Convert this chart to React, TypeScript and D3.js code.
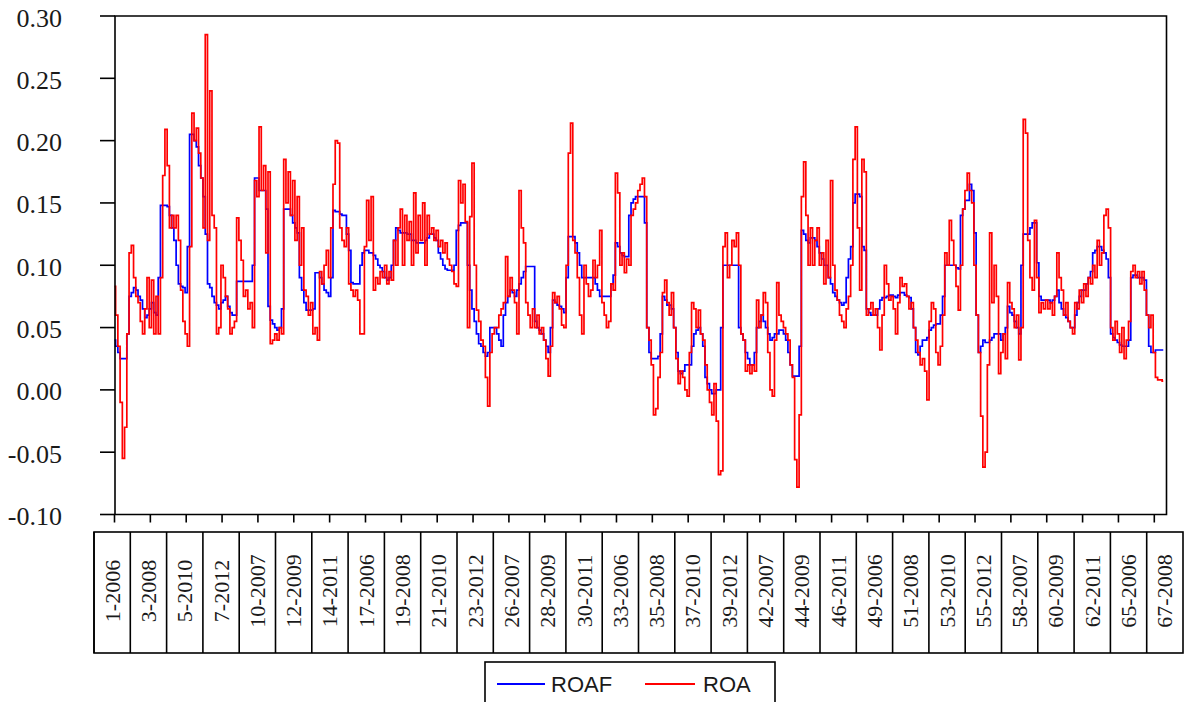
import React from "react";
import * as d3 from "d3";

const ROA: number[] = [
  0.083,0.06,0.035,-0.01,-0.055,-0.03,0.045,0.11,0.116,0.09,
  0.075,0.07,0.055,0.045,0.065,0.09,0.05,0.088,0.045,0.075,
  0.045,0.09,0.172,0.209,0.18,0.13,0.14,0.13,0.14,0.12,
  0.08,0.055,0.045,0.035,0.115,0.222,0.2,0.21,0.19,0.17,
  0.13,0.285,0.12,0.24,0.14,0.13,0.045,0.05,0.1,0.09,
  0.075,0.065,0.045,0.05,0.055,0.138,0.12,0.104,0.075,0.08,
  0.065,0.07,0.05,0.168,0.155,0.211,0.16,0.18,0.11,0.175,
  0.037,0.04,0.045,0.04,0.05,0.045,0.185,0.15,0.175,0.14,
  0.168,0.12,0.155,0.1,0.13,0.08,0.075,0.06,0.07,0.045,
  0.05,0.04,0.095,0.085,0.1,0.112,0.09,0.13,0.165,0.2,
  0.198,0.13,0.12,0.115,0.13,0.085,0.08,0.075,0.08,0.072,
  0.045,0.045,0.115,0.152,0.12,0.155,0.08,0.09,0.085,0.095,
  0.09,0.1,0.085,0.095,0.088,0.12,0.1,0.13,0.145,0.1,
  0.14,0.12,0.135,0.1,0.158,0.11,0.14,0.12,0.15,0.1,
  0.14,0.125,0.13,0.12,0.128,0.115,0.12,0.11,0.118,0.105,
  0.1,0.095,0.085,0.083,0.168,0.15,0.165,0.135,0.05,0.139,
  0.182,0.1,0.064,0.055,0.04,0.035,0.01,-0.013,0.03,0.045,
  0.05,0.05,0.06,0.065,0.07,0.107,0.075,0.09,0.08,0.07,
  0.045,0.16,0.13,0.118,0.07,0.06,0.05,0.065,0.05,0.06,
  0.045,0.05,0.04,0.025,0.011,0.035,0.078,0.07,0.075,0.065,
  0.052,0.05,0.1,0.19,0.214,0.12,0.11,0.09,0.06,0.045,
  0.1,0.085,0.075,0.08,0.104,0.09,0.1,0.128,0.07,0.06,
  0.05,0.055,0.085,0.08,0.174,0.158,0.1,0.11,0.094,0.105,
  0.1,0.14,0.145,0.15,0.16,0.165,0.17,0.155,0.05,0.04,
  0.02,-0.02,-0.015,0.01,0.03,0.078,0.088,0.07,0.06,0.078,
  0.05,0.025,0.005,0.015,0.01,0.0,-0.005,0.03,0.07,0.065,
  0.05,0.064,0.045,0.04,0.02,0.0,-0.01,-0.02,0.005,-0.025,
  -0.068,-0.065,0.115,0.126,0.09,0.1,0.12,0.115,0.126,0.1,
  0.045,0.04,0.015,0.02,0.013,0.02,0.015,0.072,0.05,0.06,
  0.078,0.07,0.03,0.0,-0.005,0.04,0.086,0.06,0.055,0.05,
  0.045,0.04,0.02,0.01,-0.056,-0.078,-0.02,0.155,0.183,0.14,
  0.1,0.13,0.1,0.12,0.13,0.1,0.11,0.085,0.12,0.09,
  0.168,0.1,0.08,0.072,0.06,0.055,0.05,0.065,0.075,0.1,
  0.185,0.211,0.13,0.08,0.185,0.175,0.06,0.065,0.07,0.06,
  0.065,0.05,0.032,0.06,0.1,0.085,0.072,0.075,0.065,0.045,
  0.07,0.09,0.083,0.085,0.075,0.065,0.07,0.05,0.04,0.03,
  0.02,0.025,0.015,-0.008,0.055,0.07,0.065,0.03,0.02,0.035,
  0.06,0.11,0.1,0.136,0.12,0.1,0.083,0.064,0.1,0.145,
  0.16,0.174,0.16,0.15,0.1,0.06,0.03,-0.021,-0.062,-0.05,
  0.02,0.126,0.07,0.1,0.075,0.013,0.03,0.045,0.025,0.086,
  0.07,0.065,0.05,0.06,0.024,0.05,0.217,0.206,0.12,0.09,
  0.08,0.136,0.09,0.062,0.07,0.065,0.072,0.065,0.07,0.06,
  0.075,0.11,0.09,0.08,0.06,0.07,0.055,0.05,0.045,0.07,
  0.065,0.08,0.07,0.085,0.075,0.09,0.085,0.1,0.09,0.12,
  0.1,0.11,0.14,0.145,0.13,0.05,0.04,0.055,0.045,0.03,
  0.05,0.025,0.04,0.055,0.095,0.1,0.09,0.095,0.085,0.095,
  0.08,0.06,0.05,0.06,0.03,0.01,0.008,0.008,0.007,
];

const ROAF: number[] = [
  0.04,0.035,0.03,0.025,0.025,0.025,0.045,0.075,0.078,0.082,
  0.08,0.075,0.072,0.065,0.058,0.06,0.065,0.07,0.062,0.06,
  0.09,0.148,0.148,0.148,0.147,0.14,0.13,0.12,0.1,0.085,
  0.083,0.082,0.078,0.115,0.205,0.205,0.2,0.195,0.18,0.17,
  0.155,0.125,0.085,0.082,0.075,0.07,0.068,0.065,0.07,0.072,
  0.075,0.067,0.062,0.06,0.06,0.087,0.087,0.087,0.087,0.087,
  0.087,0.087,0.1,0.17,0.17,0.16,0.16,0.16,0.145,0.067,
  0.056,0.053,0.05,0.048,0.05,0.065,0.145,0.145,0.145,0.14,
  0.134,0.13,0.126,0.09,0.08,0.07,0.064,0.064,0.064,0.065,
  0.094,0.094,0.09,0.085,0.08,0.078,0.075,0.09,0.144,0.143,
  0.143,0.141,0.14,0.14,0.125,0.112,0.086,0.085,0.085,0.085,
  0.1,0.11,0.112,0.112,0.11,0.11,0.108,0.105,0.1,0.098,
  0.095,0.09,0.088,0.09,0.1,0.12,0.13,0.128,0.126,0.126,
  0.126,0.125,0.125,0.12,0.12,0.118,0.118,0.118,0.118,0.12,
  0.122,0.125,0.125,0.122,0.12,0.11,0.105,0.1,0.097,0.096,
  0.096,0.096,0.1,0.128,0.132,0.134,0.134,0.134,0.1,0.08,
  0.065,0.055,0.045,0.037,0.035,0.03,0.027,0.03,0.05,0.05,
  0.05,0.045,0.04,0.035,0.06,0.07,0.075,0.08,0.078,0.075,
  0.08,0.085,0.09,0.095,0.099,0.099,0.099,0.099,0.055,0.05,
  0.048,0.045,0.04,0.035,0.03,0.05,0.072,0.07,0.068,0.067,
  0.065,0.062,0.09,0.123,0.123,0.123,0.118,0.11,0.1,0.09,
  0.09,0.09,0.09,0.09,0.09,0.085,0.08,0.075,0.075,0.075,
  0.075,0.075,0.085,0.092,0.118,0.115,0.11,0.108,0.107,0.107,
  0.14,0.15,0.153,0.155,0.155,0.155,0.155,0.134,0.05,0.03,
  0.025,0.025,0.025,0.027,0.045,0.075,0.072,0.068,0.068,0.065,
  0.05,0.03,0.015,0.013,0.015,0.02,0.02,0.02,0.035,0.045,
  0.048,0.05,0.045,0.035,0.01,0.005,0.0,-0.003,-0.003,0.0,
  0.0,0.05,0.1,0.1,0.1,0.1,0.1,0.1,0.1,0.05,
  0.045,0.04,0.03,0.025,0.02,0.02,0.03,0.05,0.055,0.06,
  0.055,0.05,0.045,0.04,0.042,0.045,0.045,0.048,0.048,0.045,
  0.04,0.03,0.02,0.011,0.011,0.011,0.035,0.128,0.125,0.12,
  0.118,0.122,0.122,0.12,0.115,0.11,0.105,0.1,0.1,0.09,
  0.085,0.078,0.075,0.072,0.07,0.068,0.07,0.09,0.105,0.115,
  0.15,0.157,0.157,0.155,0.115,0.112,0.065,0.062,0.06,0.06,
  0.06,0.065,0.072,0.074,0.074,0.075,0.076,0.076,0.075,0.074,
  0.076,0.078,0.078,0.076,0.075,0.074,0.065,0.05,0.03,0.028,
  0.035,0.04,0.04,0.042,0.048,0.05,0.052,0.053,0.053,0.06,
  0.075,0.1,0.1,0.1,0.1,0.1,0.098,0.097,0.14,0.145,
  0.152,0.152,0.165,0.16,0.126,0.06,0.03,0.035,0.04,0.038,
  0.038,0.04,0.042,0.045,0.045,0.045,0.04,0.045,0.05,0.067,
  0.062,0.06,0.055,0.05,0.045,0.1,0.125,0.125,0.125,0.13,
  0.134,0.134,0.102,0.075,0.072,0.072,0.072,0.072,0.07,0.072,
  0.075,0.08,0.07,0.065,0.06,0.058,0.055,0.05,0.05,0.06,
  0.07,0.075,0.08,0.08,0.085,0.09,0.095,0.11,0.112,0.115,
  0.115,0.112,0.11,0.105,0.09,0.045,0.042,0.04,0.038,0.036,
  0.035,0.035,0.035,0.04,0.09,0.092,0.092,0.09,0.09,0.09,
  0.088,0.06,0.035,0.03,0.03,0.032,0.032,0.032,0.032,
];

const TICK_LABELS: string[] = [
  "1-2006","3-2008","5-2010","7-2012","10-2007","12-2009","14-2011","17-2006",
  "19-2008","21-2010","23-2012","26-2007","28-2009","30-2011","33-2006","35-2008",
  "37-2010","39-2012","42-2007","44-2009","46-2011","49-2006","51-2008","53-2010",
  "55-2012","58-2007","60-2009","62-2011","65-2006","67-2008",
];
const TICK_STEP = 16;
const Y_TICKS: number[] = [0.3, 0.25, 0.2, 0.15, 0.1, 0.05, 0.0, -0.05, -0.1];

const SERIES = [
  { name: "ROAF", values: ROAF, color: "#0000ff" },
  { name: "ROA", values: ROA, color: "#ff0000" },
];

export default function App() {
  const W = 1187, H = 702;
  const n = ROA.length;
  const x = d3.scaleLinear().domain([0, n]).range([114.5, 1165.5]);
  const y = d3.scaleLinear().domain([-0.1, 0.3]).range([514.5, 16]);
  const line = d3
    .line<number>()
    .x((_, i) => x(i))
    .y((d) => y(d))
    .curve(d3.curveStep);
  const band = d3.scaleBand<string>().domain(TICK_LABELS).range([94, 1183]);
  const serif = "'Liberation Serif', 'Times New Roman', serif";
  const sans = "'Liberation Sans', Arial, sans-serif";
  const left = 115, right = 1166.5, top = y(0.3), bottom = y(-0.1);

  return (
    <svg width={W} height={H} style={{ position: "absolute", left: 0, top: 0, background: "#fff" }}>
      <rect x={0} y={0} width={W} height={H} fill="#fff" />
      {SERIES.map((s) => (
        <path key={s.name} d={line(s.values) || ""} fill="none" stroke={s.color} strokeWidth={1.7} />
      ))}
      <path d={`M${left},${bottom}V${top}H${right}V${bottom}H${left}`} fill="none" stroke="#000" strokeWidth={1.6} />
      {Y_TICKS.map((t) => (
        <g key={t}>
          <line x1={100} x2={left} y1={y(t)} y2={y(t)} stroke="#000" strokeWidth={1.6} />
          <text x={62} y={y(t) + 2} textAnchor="end" dominantBaseline="central" fontFamily={serif} fontSize={26} fill="#1a1a1a">
            {t.toFixed(2)}
          </text>
        </g>
      ))}
      {TICK_LABELS.map((lab, k) => (
        <line key={lab} x1={x(k * TICK_STEP)} x2={x(k * TICK_STEP)} y1={bottom} y2={bottom + 8} stroke="#000" strokeWidth={1.6} />
      ))}
      <rect x={94} y={532} width={1183 - 94} height={121} fill="none" stroke="#000" strokeWidth={1.6} />
      {TICK_LABELS.map((lab) => {
        const bx = band(lab)!;
        const cx = bx + band.bandwidth() / 2;
        return (
          <g key={lab}>
            <line x1={bx} x2={bx} y1={532} y2={653} stroke="#000" strokeWidth={1.6} />
            <text
              transform={`translate(${cx},${591}) rotate(-90)`}
              textAnchor="middle"
              dominantBaseline="central"
              fontFamily={serif}
              fontSize={22}
              fill="#1a1a1a"
            >
              {lab}
            </text>
          </g>
        );
      })}
      <rect x={485} y={662} width={290} height={45} fill="#fff" stroke="#000" strokeWidth={1.6} />
      <line x1={497} x2={545} y1={684} y2={684} stroke="#0000ff" strokeWidth={2} />
      <text x={551} y={684} dominantBaseline="central" fontFamily={sans} fontSize={22} fill="#1a1a1a">ROAF</text>
      <line x1={645} x2={695} y1={684} y2={684} stroke="#ff0000" strokeWidth={2} />
      <text x={703} y={684} dominantBaseline="central" fontFamily={sans} fontSize={22} fill="#1a1a1a">ROA</text>
    </svg>
  );
}
